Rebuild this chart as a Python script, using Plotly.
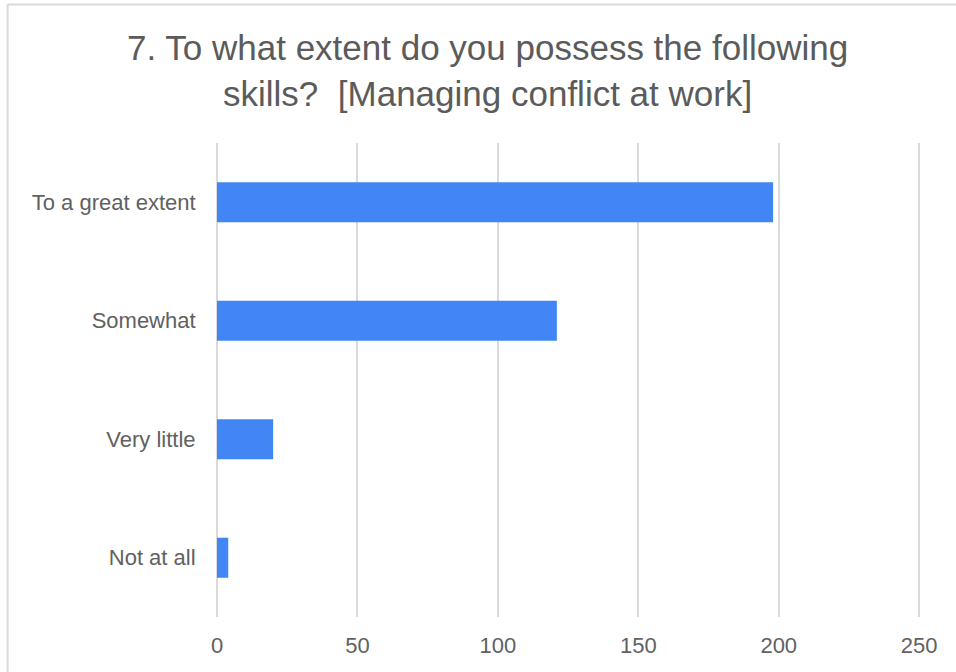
import plotly.graph_objects as go

# Survey responses for "Managing conflict at work"
categories = ["To a great extent", "Somewhat", "Very little", "Not at all"]
responses = [198, 121, 20, 4]
x_ticks = [0, 50, 100, 150, 200, 250]

title_text = ("7. To what extent do you possess the following<br>"
              "skills?\u00a0 [Managing conflict at work]")

FONT = "Arial, 'Liberation Sans', sans-serif"
GRID = "#dadada"

fig = go.Figure(
    go.Bar(
        x=responses,
        y=categories,
        orientation="h",
        marker=dict(color="#4285f4", line=dict(width=0)),
        hoverinfo="x+y",
    )
)

W, H = 956, 672
X_MAX = 251
L, T, B = 216.5, 143, 55
R = W - L - 702.5 * X_MAX / 250
pw, ph = W - L - R, H - T - B

def px_x(p):
    return (p - L) / pw

def px_y(p):
    return (H - B - p) / ph

# light card frame along the top and left edges
frame = dict(color="#dadada", width=2)
shapes = [
    dict(type="line", xref="paper", yref="paper",
         x0=px_x(7), x1=px_x(W + 5), y0=px_y(4.5), y1=px_y(4.5), line=frame),
    dict(type="line", xref="paper", yref="paper",
         x0=px_x(7), x1=px_x(7), y0=px_y(4.5), y1=px_y(H + 5), line=frame),
]

fig.update_layout(
    width=W,
    height=H,
    margin=dict(l=L, r=R, t=T, b=B, pad=0),
    paper_bgcolor="white",
    plot_bgcolor="white",
    bargap=0.662,
    showlegend=False,
    font=dict(family=FONT, size=22, color="#616161"),
    shapes=shapes,
    annotations=[
        dict(
            text=title_text,
            xref="paper", yref="paper",
            x=px_x(487), y=px_y(26),
            xanchor="center", yanchor="top",
            showarrow=False,
            align="center",
            font=dict(family=FONT, size=35, color="#5b5b5b"),
        )
    ],
    xaxis=dict(
        range=[0, X_MAX],
        tickvals=x_ticks,
        showgrid=True,
        gridcolor=GRID,
        gridwidth=2,
        zeroline=True,
        zerolinecolor=GRID,
        zerolinewidth=2,
        showline=False,
        ticks="outside",
        ticklen=9,
        tickcolor="rgba(0,0,0,0)",
        tickfont=dict(size=22, color="#616161"),
        fixedrange=True,
    ),
    yaxis=dict(
        autorange="reversed",
        showgrid=False,
        zeroline=False,
        showline=False,
        ticks="outside",
        ticklen=16,
        tickcolor="rgba(0,0,0,0)",
        tickfont=dict(size=22, color="#616161"),
        fixedrange=True,
    ),
)

fig.write_html("out.html", config={"displayModeBar": False})
